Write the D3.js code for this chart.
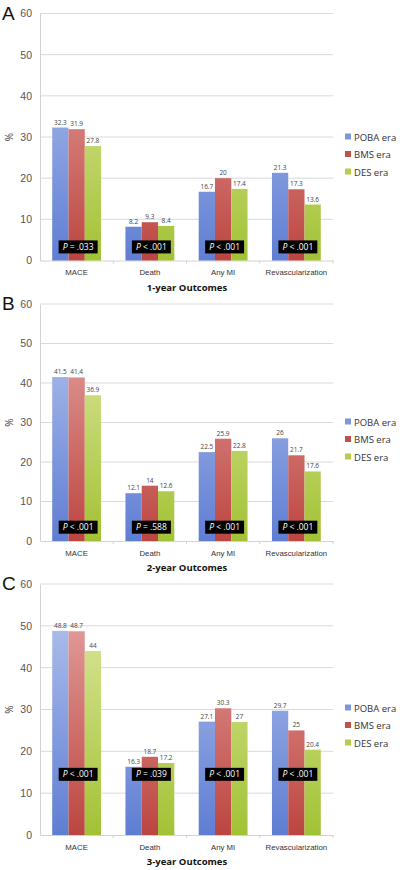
<!DOCTYPE html>
<html>
<head>
<meta charset="utf-8">
<script src="https://cdn.jsdelivr.net/npm/d3@7/dist/d3.min.js"></script>
<style>
  html, body { margin: 0; padding: 0; background: #fff; }
  svg { display: block; font-family: "Open Sans", "DejaVu Sans", sans-serif; }
</style>
</head>
<body>
<svg id="chart" width="400" height="870"></svg>
<script>
// ---------- DATA ----------
const categories = ["MACE", "Death", "Any MI", "Revascularization"];
const seriesNames = ["POBA era", "BMS era", "DES era"];
const yTicks = [0, 10, 20, 30, 40, 50, 60];

const poba1 = [32.3, 8.2, 16.7, 21.3];
const bms1  = [31.9, 9.3, 20, 17.3];
const des1  = [27.8, 8.4, 17.4, 13.6];
const pVals1 = ["= .033", "< .001", "< .001", "< .001"];

const poba2 = [41.5, 12.1, 22.5, 26];
const bms2  = [41.4, 14, 25.9, 21.7];
const des2  = [36.9, 12.6, 22.8, 17.6];
const pVals2 = ["< .001", "= .588", "< .001", "< .001"];

const poba3 = [48.8, 16.3, 27.1, 29.7];
const bms3  = [48.7, 18.7, 30.3, 25];
const des3  = [44, 17.2, 27, 20.4];
const pVals3 = ["< .001", "= .039", "< .001", "< .001"];

const panelLetters = ["A", "B", "C"];
const panelTitles = ["1-year Outcomes", "2-year Outcomes", "3-year Outcomes"];

// ---------- LAYOUT ----------
const panels = [
  { letter: panelLetters[0], title: panelTitles[0], series: [poba1, bms1, des1], p: pVals1,
    yTop: 13.5, yBot: 260.5, pAt: 3.3, legendY: 137 },
  { letter: panelLetters[1], title: panelTitles[1], series: [poba2, bms2, des2], p: pVals2,
    yTop: 304, yBot: 541, pAt: 3.5, legendY: 422 },
  { letter: panelLetters[2], title: panelTitles[2], series: [poba3, bms3, des3], p: pVals3,
    yTop: 584, yBot: 835, pAt: 14.5, legendY: 708 }
];

const colorsTop    = ["#b9c8ef", "#e8aaa8", "#e2eba8"];
const colorsBottom = ["#5f7ed3", "#bc4540", "#a2c235"];
const legendColors = ["#7d97dc", "#c4504c", "#b3cf4c"];

const svg = d3.select("#chart");
const defs = svg.append("defs");

const x0 = d3.scaleBand().domain(categories).range([40, 333]).paddingInner(0).paddingOuter(0);
const groupFrac = 3 / 4.5;

panels.forEach((pn, pi) => {
  const y = d3.scaleLinear().domain([0, 60]).range([pn.yBot, pn.yTop]);
  const x1 = d3.scaleBand().domain(seriesNames)
    .range([0, x0.bandwidth() * groupFrac]).padding(0);
  const g = svg.append("g");

  seriesNames.forEach((s, si) => {
    const gr = defs.append("linearGradient")
      .attr("id", `grad${pi}_${si}`)
      .attr("gradientUnits", "userSpaceOnUse")
      .attr("x1", 0).attr("x2", 0)
      .attr("y1", y(60)).attr("y2", y(0));
    gr.append("stop").attr("offset", "0%").attr("stop-color", colorsTop[si]);
    gr.append("stop").attr("offset", "100%").attr("stop-color", colorsBottom[si]);
  });

  // gridlines
  g.append("g").selectAll("line").data(yTicks.filter(t => t > 0)).join("line")
    .attr("x1", 40).attr("x2", 333)
    .attr("y1", d => y(d)).attr("y2", d => y(d))
    .attr("stroke", "#dadada").attr("stroke-width", 1);

  // y axis
  const yAxis = d3.axisLeft(y).tickValues(yTicks).tickSize(0).tickPadding(8);
  const ya = g.append("g").attr("transform", "translate(40,0)").call(yAxis);
  ya.select(".domain").attr("stroke", "#d2d2d2");
  ya.selectAll(".tick text").attr("fill", "#555").attr("font-size", 10.5);

  // x axis
  const xAxis = d3.axisBottom(x0).tickSize(0).tickPadding(9);
  const xa = g.append("g").attr("transform", `translate(0,${y(0)})`).call(xAxis);
  xa.select(".domain").attr("stroke", "#d2d2d2");
  xa.selectAll(".tick text").attr("fill", "#333").attr("font-size", 7.8);
  g.append("g").selectAll("line").data(categories.slice(1).concat(["__end"])).join("line")
    .attr("x1", d => d === "__end" ? 333 : x0(d))
    .attr("x2", d => d === "__end" ? 333 : x0(d))
    .attr("y1", y(0)).attr("y2", y(0) + 3)
    .attr("stroke", "#d2d2d2");

  // bars
  const groups = g.append("g").selectAll("g").data(categories).join("g")
    .attr("transform", d => `translate(${x0(d) + x0.bandwidth() * (1 - groupFrac) / 2},0)`);
  groups.each(function(cat, ci) {
    const gg = d3.select(this);
    const vals = seriesNames.map((s, si) => ({ s, si, v: pn.series[si][ci] }));
    gg.selectAll("rect").data(vals).join("rect")
      .attr("x", d => x1(d.s))
      .attr("width", x1.bandwidth())
      .attr("y", d => y(d.v))
      .attr("height", d => y(0) - y(d.v))
      .attr("fill", d => `url(#grad${pi}_${d.si})`);
    gg.selectAll("text.val").data(vals).join("text")
      .attr("class", "val")
      .attr("x", d => x1(d.s) + x1.bandwidth() / 2)
      .attr("y", d => y(d.v) - 3)
      .attr("text-anchor", "middle")
      .attr("font-size", 6.5)
      .attr("fill", "#444")
      .text(d => d.v);
  });

  // p-value boxes
  categories.forEach((cat, ci) => {
    const cx = x0(cat) + x0.bandwidth() / 2 + 1.5;
    const cy = y(pn.pAt);
    const bg = g.append("g");
    const t = bg.append("text")
      .attr("x", cx).attr("y", cy + 3)
      .attr("text-anchor", "middle")
      .attr("fill", "#fff")
      .attr("font-size", 8.5);
    t.append("tspan").attr("font-style", "italic").text("P");
    t.append("tspan").text(" " + pn.p[ci]);
    const bb = t.node().getBBox();
    bg.insert("rect", "text")
      .attr("x", cx - (bb.width + 8) / 2)
      .attr("y", cy - 6.5)
      .attr("width", bb.width + 8)
      .attr("height", 13)
      .attr("fill", "#000");
  });

  // % label
  g.append("text")
    .attr("transform", `translate(13,${y(30)}) rotate(-90)`)
    .attr("text-anchor", "middle")
    .attr("font-size", 10)
    .attr("fill", "#444")
    .text("%");

  // panel letter
  g.append("text")
    .attr("x", 2).attr("y", y(60) + 6)
    .attr("font-size", 19)
    .attr("font-family", "Liberation Sans, Arial, sans-serif")
    .attr("fill", "#111")
    .text(pn.letter);

  // title
  g.append("text")
    .attr("x", 187).attr("y", y(0) + 30)
    .attr("text-anchor", "middle")
    .attr("font-size", 9.5)
    .attr("font-weight", "bold")
    .attr("fill", "#111")
    .text(pn.title);

  // legend
  const lg = g.append("g").selectAll("g").data(seriesNames).join("g")
    .attr("transform", (d, i) => `translate(345,${pn.legendY + i * 17.5})`);
  lg.append("rect").attr("x", 0).attr("y", -3.5).attr("width", 6).attr("height", 6)
    .attr("fill", (d, i) => legendColors[i]);
  lg.append("text").attr("x", 9).attr("y", 3.5)
    .attr("font-size", 9.5).attr("fill", "#333").text(d => d);
});
</script>
</body>
</html>
